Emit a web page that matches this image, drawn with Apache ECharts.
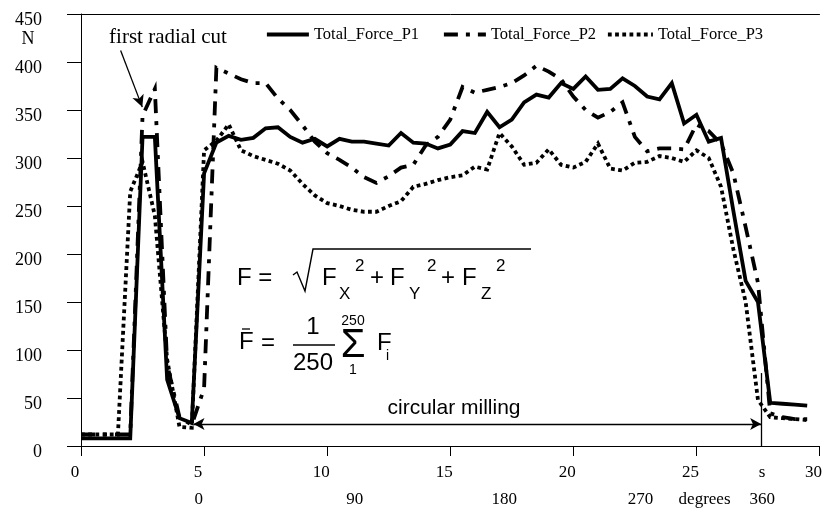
<!DOCTYPE html>
<html><head><meta charset="utf-8">
<script src="https://cdn.jsdelivr.net/npm/echarts@6/dist/echarts.min.js"></script>
<style>html,body{margin:0;padding:0;background:#fff}#c{width:825px;height:508px}</style>
</head><body><div id="c"></div>
<script>
// ---- data (time in s, force in N) ----
const timeS = [0,0.5,1,1.5,2,2.5,3,3.5,4,4.5,5,5.5,6,6.5,7,7.5,8,8.5,9,9.5,
  10,10.5,11,11.5,12,12.5,13,13.5,14,14.5,15,15.5,16,16.5,17,17.5,18,18.5,19,19.5,
  20,20.5,21,21.5,22,22.5,23,23.5,24,24.5,25,25.5,26,26.5,27,27.5,28,28.5,29,29.5];
const seriesNames = ['Total_Force_P1','Total_Force_P2','Total_Force_P3'];
const forceP1 = [8,8,8,8,8, 322,322,69,29,24, 284,316,323,319,321, 331,332,322,316,320,
  312,320,317,317,315, 313,326,316,315,310, 314,328,326,348,332, 340,358,366,363,378,
  372,385,371,372,383, 375,364,361,378,336, 345,317,321,245,172, 150,45,44,43,42];
const forceP2 = [12,12,12,12,12, 344,372,85,30,22, 60,394,388,382,378, 378,362,350,334,317,
  305,298,290,280,274, 281,290,293,313,322, 340,374,368,371,374, 378,386,396,390,382,
  364,350,342,348,358, 322,307,310,310,309, 335,328,315,284,228, 170,34,30,28,28];
const forceP3 = [12,12,12,12,265, 296,240,90,20,19, 308,318,335,308,302, 298,294,287,273,261,
  253,250,246,244,244, 250,255,270,273,277, 280,282,291,288,326, 312,293,295,309,293,
  290,296,315,289,287, 295,296,302,300,296, 308,300,270,205,150, 48,30,29,28,27];
const timeTicks = [0,5,10,15,20,25,30];
const forceTicks = [0,50,100,150,200,250,300,350,400,450];
const degreeLabels = ['0','90','180','270','degrees','360'];
const degreeLabelTimes = [4.78,11.12,17.19,22.73,25.33,27.67];
const millingStart = 4.57, millingEnd = 27.63;

const serif = '"Liberation Serif","Times New Roman",serif';
const sans = '"Liberation Sans",Arial,sans-serif';

function pair(xs, ys){ return xs.map((x,i)=>[x, ys[i]]); }

const styles = [
  {type:'solid', width:3.8},
  {type:[14,8,4,8], width:3.8},
  {type:[3.8,3.4], width:3.8}
];
const allForces = [forceP1, forceP2, forceP3];

function txt(t, x, y, size, fam, align){
  return {type:'text', x:x, y:y, silent:true, z:100,
    style:{text:t, font: size+'px '+fam, fill:'#000',
      align: align||'left', textAlign: align||'left',
      verticalAlign:'middle', textVerticalAlign:'middle'}};
}
function seg(points, w){
  return {type:'polyline', silent:true, z:100, shape:{points:points},
    style:{stroke:'#000', lineWidth:w||1.3, fill:null}};
}

const formula = [
  txt('F =', 237, 278, 24, sans),
  seg([[293,275],[297,272],[305,291],[313,249],[531,249]], 1.4),
  txt('F', 322, 278, 24, sans), txt('X', 339, 294, 17, sans), txt('2', 355, 266, 17, sans),
  txt('+', 370, 278, 24, sans),
  txt('F', 390, 278, 24, sans), txt('Y', 409, 294, 17, sans), txt('2', 427, 266, 17, sans),
  txt('+', 441, 278, 24, sans),
  txt('F', 462, 278, 24, sans), txt('Z', 481, 294, 17, sans), txt('2', 496, 266, 17, sans),
  txt('F', 239, 342, 24, sans), seg([[242,329],[250,329]], 1.3),
  txt('=', 261, 343, 24, sans),
  txt('1', 313, 327, 24, sans, 'center'),
  seg([[293,345],[335,345]], 1.4),
  txt('250', 313, 363, 24, sans, 'center'),
  txt('Σ', 353, 346, 40, sans, 'center'),
  txt('250', 353, 321, 14, sans, 'center'),
  txt('1', 353, 370, 14, sans, 'center'),
  txt('F', 377, 343, 24, sans), txt('i', 386, 356, 14, sans)
];

const chart = echarts.init(document.getElementById('c'), null, {renderer:'canvas'});
const axisCol = '#000';
const option = {
  animation:false,
  backgroundColor:'#fff',
  grid:{left:81, right:-3, top:14, bottom:62, containLabel:false},
  legend: seriesNames.map((n,i)=>({
    data:[n], left:[265,442,606][i], top:26, padding:0,
    itemWidth:[42,42,45][i], itemHeight:16, itemGap:5,
    itemStyle:{opacity:0},
    lineStyle:{width:3.8},
    textStyle:{fontFamily:serif, fontSize:16.5, color:'#000'},
    selectedMode:false
  })),
  xAxis:[
    {type:'value', min:timeTicks[0], max:timeTicks[timeTicks.length-1], interval:timeTicks[1]-timeTicks[0],
      position:'bottom',
      axisLine:{show:true, onZero:false, lineStyle:{color:axisCol, width:1}},
      axisTick:{show:true, length:10, lineStyle:{color:axisCol, width:1}},
      axisLabel:{show:true, margin:18, padding:[0,12,0,0], fontFamily:serif, fontSize:17, color:'#000',
        showMaxLabel:true, showMinLabel:true},
      splitLine:{show:false}},
    {type:'value', min:0, max:30, position:'bottom', offset:27,
      axisLine:{show:false}, axisTick:{show:false}, splitLine:{show:false},
      axisLabel:{show:true, margin:18, fontFamily:serif, fontSize:17, color:'#000',
        customValues:degreeLabelTimes,
        formatter:(v)=>{const i=degreeLabelTimes.findIndex(t=>Math.abs(t-v)<1e-6); return i>=0?degreeLabels[i]:'';}}},
    {type:'value', min:0, max:30, position:'bottom', offset:0,
      axisLine:{show:false}, axisTick:{show:false}, splitLine:{show:false},
      axisLabel:{show:true, margin:18, fontFamily:serif, fontSize:17, color:'#000',
        customValues:[degreeLabelTimes[5]], formatter:()=> 's'}},
    {type:'value', min:0, max:30, position:'top',
      axisLine:{show:true, lineStyle:{color:axisCol, width:1}}, axisTick:{show:false},
      axisLabel:{show:false}, splitLine:{show:false}}
  ],
  yAxis:{type:'value', min:forceTicks[0], max:forceTicks[forceTicks.length-1], interval:forceTicks[1]-forceTicks[0],
    axisLine:{show:true, lineStyle:{color:axisCol, width:1}},
    axisTick:{show:true, length:14, lineStyle:{color:axisCol, width:1}},
    axisLabel:{margin:39, verticalAlign:'top', lineHeight:13, fontFamily:serif, fontSize:18, color:'#000'},
    splitLine:{show:false}},
  series: seriesNames.map((n,i)=>({
    name:n, type:'line', xAxisIndex:0, symbol:'none', showSymbol:false,
    data: pair(timeS, allForces[i]),
    lineStyle:{color:'#000', width:styles[i].width, type:styles[i].type, cap:'butt', join:'miter'},
    itemStyle:{color:'#000'},
    emphasis:{disabled:true},
    z: 3-i,
    markLine: i===0 ? {
      silent:true, animation:false, label:{show:false}, emphasis:{disabled:true},
      lineStyle:{color:'#000', width:1.3, type:'solid'},
      data:[
        [{coord:[millingStart, 33], symbol:'none'}, {coord:[millingStart, -8], symbol:'none'}],
        [{coord:[millingEnd, 76], symbol:'none'}, {coord:[millingEnd, 0], symbol:'none'}],
        [{coord:[millingStart, 22.9], symbol:'arrow', symbolSize:[9,11]}, {coord:[millingEnd, 22.9], symbol:'arrow', symbolSize:[9,11]}],
        [{coord:[1.61, 412], symbol:'none'}, {coord:[2.49, 353], symbol:'arrow', symbolSize:[9,12]}]
      ]
    } : undefined
  })),
  graphic: [
    txt('first radial cut', 168, 37, 21, serif, 'center'),
    txt('N', 28, 39, 18, serif, 'center'),
    txt('circular milling', 454, 408, 21, sans, 'center')
  ].concat(formula)
};
chart.setOption(option);
</script>
</body></html>
